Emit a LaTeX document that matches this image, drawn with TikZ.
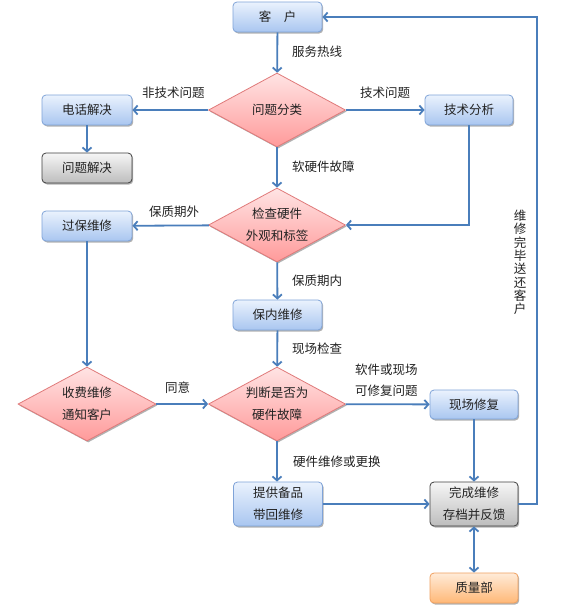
\documentclass[tikz,border=0pt]{standalone}
\usepackage{fontspec}
\setmainfont{Noto Sans CJK SC}
\usetikzlibrary{shapes.geometric,arrows.meta,shadows}
\definecolor{arrblue}{HTML}{4A7EBB}
\definecolor{boxtop}{HTML}{EAF2FD}
\definecolor{boxbot}{HTML}{A9C6F0}
\definecolor{boxline}{HTML}{7FA3D8}
\definecolor{diatop}{HTML}{FFE4E4}
\definecolor{diabot}{HTML}{FF9A9A}
\definecolor{dialine}{HTML}{E07A7A}
\definecolor{graytop}{HTML}{F6F6F6}
\definecolor{graybot}{HTML}{BDBDBD}
\definecolor{grayline}{HTML}{404040}
\definecolor{orgtop}{HTML}{FFEBD8}
\definecolor{orgbot}{HTML}{FFB877}
\definecolor{orgline}{HTML}{F0A060}
\definecolor{txt}{HTML}{222222}
\tikzset{
  shad/.style={drop shadow={shadow xshift=1.2pt,shadow yshift=-1.5pt,opacity=0.3,fill=black}},
  bluebox/.style={rectangle,rounded corners=4pt,draw=boxline,line width=0.8pt,
    top color=boxtop,bottom color=boxbot,shad,text=txt,
    font=\fontsize{12.5}{22}\selectfont,align=center,inner sep=0pt},
  graybox/.style={bluebox,draw=grayline,top color=graytop,bottom color=graybot},
  orgbox/.style={bluebox,draw=orgline,top color=orgtop,bottom color=orgbot},
  dia/.style={diamond,shape aspect=1.85,draw=dialine,line width=0.8pt,
    top color=diatop,bottom color=diabot,shad,text=txt,
    minimum width=137pt,minimum height=74pt,inner sep=0pt,
    font=\fontsize{12.5}{22}\selectfont,align=center},
  lab/.style={anchor=west,inner sep=0pt,text=txt,font=\fontsize{12.5}{21}\selectfont,align=left},
  arr/.style={draw=arrblue,line width=1.8pt,-{Straight Barb[length=4pt,width=9pt]}},
  dblarr/.style={draw=arrblue,line width=1.8pt,{Straight Barb[length=4pt,width=9pt]}-{Straight Barb[length=4pt,width=9pt]}},
  plain/.style={draw=arrblue,line width=1.8pt}
}
\begin{document}
\begin{tikzpicture}[x=1pt,y=-1pt]
\useasboundingbox (0,0) rectangle (577,606);
\fill[white] (0,0) rectangle (577,606);
% nodes
\node[bluebox,minimum width=89pt,minimum height=30pt] (kehu) at (277.5,17) {客\hspace{1em}户};
\node[dia] (fenlei) at (277,110) {问题分类};
\node[bluebox,minimum width=90pt,minimum height=30pt] (dianhua) at (87,110) {电话解决};
\node[bluebox,minimum width=88pt,minimum height=30pt] (jishu) at (469,110) {技术分析};
\node[graybox,minimum width=90pt,minimum height=30pt] (jiejue) at (87,168) {问题解决};
\node[dia] (jiancha) at (277,225) {检查硬件\\外观和标签};
\node[bluebox,minimum width=90pt,minimum height=30pt] (guobao) at (87,226) {过保维修};
\node[bluebox,minimum width=89pt,minimum height=30pt] (baonei) at (277.5,315) {保内维修};
\node[dia] (panduan) at (277,404) {判断是否为\\硬件故障};
\node[dia,minimum width=138pt] (shoufei) at (87,404) {收费维修\\通知客户};
\node[bluebox,minimum width=88pt,minimum height=29pt] (xianchang) at (474,404.5) {现场修复};
\node[bluebox,minimum width=89pt,minimum height=44pt] (tigong) at (278,504) {提供备品\\带回维修};
\node[graybox,minimum width=88pt,minimum height=44pt] (wancheng) at (474,504) {完成维修\\存档并反馈};
\node[orgbox,minimum width=88pt,minimum height=30pt] (zhiliang) at (474,588) {质量部};
\coordinate (loopb) at (537,504);
\coordinate (loopt) at (537,17);
% labels
\node[lab] (l1) at (292,52) {服务热线};
\node[lab] (l2) at (142,93) {非技术问题};
\node[lab] (l3) at (360,93) {技术问题};
\node[lab] (l4) at (292,167) {软硬件故障};
\node[lab] (l5) at (149,212) {保质期外};
\node[lab] (l6) at (292,281) {保质期内};
\node[lab] (l7) at (292,349) {现场检查};
\node[lab] (l8) at (165,388) {同意};
\node[lab] (l9) at (355,380.5) {软件或现场\\可修复问题};
\node[lab] (l10) at (293,462) {硬件维修或更换};
\node[inner sep=0pt,text=txt,font=\fontsize{12.5}{13.3}\selectfont,align=center] (l11) at (520,262.5) {维\\修\\完\\毕\\送\\还\\客\\户};
% connectors
\draw[arr] (kehu) -- (fenlei);
\draw[arr] (fenlei) -- (dianhua);
\draw[arr] (fenlei) -- (jishu);
\draw[arr] (dianhua) -- (jiejue);
\draw[arr] (fenlei) -- (jiancha);
\draw[arr] (jishu.south) |- (jiancha.east);
\draw[arr] (jiancha) -- (guobao);
\draw[arr] (jiancha) -- (baonei);
\draw[arr] (guobao) -- (shoufei);
\draw[arr] (baonei) -- (panduan);
\draw[arr] (shoufei) -- (panduan);
\draw[arr] (panduan) -- (xianchang);
\draw[arr] (panduan.south) -- (panduan.south |- tigong.north);
\draw[arr] (xianchang) -- (wancheng);
\draw[arr] (tigong) -- (wancheng);
\draw[dblarr] (wancheng) -- (zhiliang);
\draw[arr] (wancheng.east) -- (loopb) -- (loopt) -- (kehu.east);
\end{tikzpicture}
\end{document}
